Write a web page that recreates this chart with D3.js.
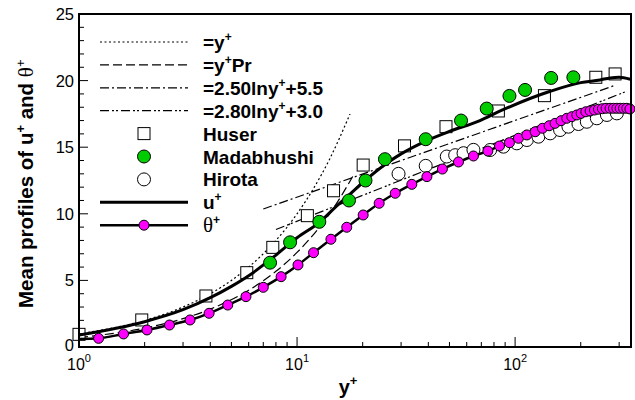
<!DOCTYPE html>
<html>
<head>
<meta charset="utf-8">
<script src="https://cdn.jsdelivr.net/npm/d3@7"></script>
<style>
body { margin: 0; background: #fff; }
svg { display: block; font-family: "Liberation Sans", Arial, sans-serif; }
</style>
</head>
<body>
<svg id="chart" width="635" height="400"></svg>
<script>
// Mean velocity / temperature profiles, wall units, log x.

// ── data ───────────────────────────────────────────
const yTicks = [0, 5, 10, 15, 20, 25];
const xMajor = [1, 10, 100];
const xMinor = [2, 3, 4, 5, 6, 7, 8, 9, 20, 30, 40, 50, 60, 70, 80, 90, 200, 300];

// u+ = y+ (dotted)
const linearYp = [1, 1.5, 2, 3, 4, 5, 6, 8, 10, 12, 14, 17.5];
const linearU  = [1, 1.5, 2, 3, 4, 5, 6, 8, 10, 12, 14, 17.5];
// y+Pr (dashed)
const prYp = [1, 2, 3, 4, 6, 8, 10, 12, 15, 18];
const prT  = [0.71, 1.42, 2.13, 2.84, 4.26, 5.68, 7.1, 8.52, 10.65, 12.8];
// log laws, straight in log-x: end points only
const log250Yp = [7, 290];
const log250U  = [10.36, 19.67];
const log280Yp = [8, 325];
const log280T  = [8.82, 19.2];

const huserYp = [1.0, 1.94, 3.82, 5.88, 7.74, 11.15, 14.7, 20.1, 31.1, 48.2, 83.8, 136.3, 234.5, 287.5];
const huserU  = [0.95, 2.03, 3.83, 5.58, 7.48, 9.86, 11.73, 13.66, 15.1, 16.54, 17.72, 18.87, 20.25, 20.5];

const madYp = [7.52, 9.29, 12.65, 17.3, 20.6, 25.3, 38.9, 56.5, 74.1, 94.2, 111.1, 146.3, 185];
const madU  = [6.33, 7.86, 9.4, 11.0, 12.5, 14.1, 15.6, 17.0, 17.9, 18.85, 19.3, 20.2, 20.25];

const hirotaYp = [29.2, 38.9, 48.6, 53.1, 58.0, 64.4, 76.8, 88.4, 101.8, 113.2, 127.9, 144.8, 160.8,
                  175.6, 195.2, 213.2, 237, 263.6, 292.9];
const hirotaU  = [13.0, 13.6, 14.3, 14.4, 14.55, 14.8, 14.79, 15.04, 15.29, 15.54, 15.79, 16.04, 16.29,
                  16.54, 16.74, 16.91, 17.17, 17.42, 17.54];

// present u+ (solid)
const uYp = [1, 2, 3, 4, 5, 6, 8, 10, 12.75, 15, 17.3, 20.5, 25.8, 30, 39.4, 50.3, 69, 85, 145, 200, 245, 273, 300, 337];
const uU  = [0.9, 1.9, 2.8, 3.7, 4.55, 5.35, 6.9, 8.2, 9.4, 10.5, 11.4, 12.5, 13.8, 14.5, 15.5, 16.2, 17.0, 17.7, 19.2, 19.85, 20.05, 20.2, 20.25, 20.1];

// present theta+ (solid + magenta dots); first point is line only
const thetaYp = [1, 1.23, 1.60, 2.05, 2.60, 3.23, 3.95, 4.81, 5.83, 7.00, 8.45, 10.1, 11.9, 14.3, 16.9,
                 20.1, 23.8, 28.2, 33.6, 39.4, 46.4, 55.0, 64.4, 75.0, 84.8, 94.2, 103.6, 113.2, 123.6,
                 133.5, 143.2, 152.5, 162.5, 172.6, 182.0, 191.9, 200.8, 211.0, 220.8, 231.2, 241.1,
                 251.4, 261.4, 272.7, 282.5, 292.9, 303.3, 314.1, 325.3, 336.3];
const thetaT  = [0.6, 0.65, 0.98, 1.28, 1.65, 2.03, 2.53, 3.15, 3.78, 4.48, 5.28, 6.16, 7.08, 8.09, 8.99,
                 9.91, 10.79, 11.54, 12.21, 12.79, 13.36, 13.89, 14.34, 14.71, 15.09, 15.34, 15.67, 15.92, 16.16,
                 16.42, 16.61, 16.79, 16.99, 17.17, 17.29, 17.42, 17.54, 17.66, 17.72, 17.79, 17.85,
                 17.89, 17.92, 17.92, 17.92, 17.92, 17.92, 17.92, 17.92, 17.87];

const zip = (a, b) => a.map((v, i) => [v, b[i]]);

// ── layout ─────────────────────────────────────────
const svg = d3.select("#chart");
const pLeft = 79, pRight = 631, pTop = 14, pBottom = 347;

const x = d3.scaleLog().domain([1, 340]).range([pLeft, pRight]);
const y = d3.scaleLinear().domain([0, 25]).range([pBottom, pTop]);

const line = d3.line().x(d => x(d[0])).y(d => y(d[1]));
const smooth = d3.line().x(d => x(d[0])).y(d => y(d[1])).curve(d3.curveMonotoneX);

const plot = svg.append("g");
plot.append("clipPath").attr("id", "clip")
    .append("rect").attr("x", pLeft).attr("y", pTop)
    .attr("width", pRight - pLeft).attr("height", pBottom - pTop);

// reference lines
const refs = [
    { data: zip(linearYp, linearU), gen: smooth, dash: "2,2.5" },
    { data: zip(prYp, prT),         gen: smooth, dash: "9,4" },
    { data: zip(log250Yp, log250U), gen: line,   dash: "9,3,2,3" },
    { data: zip(log280Yp, log280T), gen: line,   dash: "9,3,2,2,2,3" }
];
refs.forEach(r => {
    plot.append("path")
        .attr("d", r.gen(r.data))
        .attr("fill", "none")
        .attr("stroke", "#000")
        .attr("stroke-width", 1.2)
        .attr("stroke-dasharray", r.dash);
});

// experimental sets
plot.append("g").selectAll("rect")
    .data(zip(huserYp, huserU))
    .join("rect")
    .attr("x", d => x(d[0]) - 6).attr("y", d => y(d[1]) - 6)
    .attr("width", 12).attr("height", 12)
    .attr("fill", "#fff").attr("stroke", "#000").attr("stroke-width", 1);

plot.append("g").selectAll("circle")
    .data(zip(hirotaYp, hirotaU))
    .join("circle")
    .attr("cx", d => x(d[0])).attr("cy", d => y(d[1])).attr("r", 6.5)
    .attr("fill", "#fff").attr("stroke", "#000").attr("stroke-width", 1);

// present results
plot.append("path")
    .attr("d", smooth(zip(uYp, uU)))
    .attr("fill", "none").attr("stroke", "#000").attr("stroke-width", 3)
    .attr("clip-path", "url(#clip)");

plot.append("g").selectAll("circle")
    .data(zip(madYp, madU))
    .join("circle")
    .attr("cx", d => x(d[0])).attr("cy", d => y(d[1])).attr("r", 6.5)
    .attr("fill", "#00cc00").attr("stroke", "#000").attr("stroke-width", 1);

plot.append("path")
    .attr("d", smooth(zip(thetaYp, thetaT)))
    .attr("fill", "none").attr("stroke", "#000").attr("stroke-width", 2.5)
    .attr("clip-path", "url(#clip)");

plot.append("g").selectAll("circle")
    .data(zip(thetaYp, thetaT).slice(1))
    .join("circle")
    .attr("cx", d => x(d[0])).attr("cy", d => y(d[1])).attr("r", 5)
    .attr("fill", "#ff00ff").attr("stroke", "#000").attr("stroke-width", 1);

// ── axes (ticks inside, Tecplot style) ─────────────
const ax = svg.append("g");
ax.append("rect")
    .attr("x", pLeft).attr("y", pTop).attr("width", pRight - pLeft).attr("height", pBottom - pTop)
    .attr("fill", "none").attr("stroke", "#000").attr("stroke-width", 2);

const yMinor = d3.range(0, 26).filter(v => v % 5 !== 0);
ax.selectAll(".ymaj").data(yTicks).join("line")
    .attr("x1", pLeft).attr("x2", pLeft + 9)
    .attr("y1", d => y(d)).attr("y2", d => y(d))
    .attr("stroke", "#000").attr("stroke-width", 1);
ax.selectAll(".ymin").data(yMinor).join("line")
    .attr("x1", pLeft).attr("x2", pLeft + 5)
    .attr("y1", d => y(d)).attr("y2", d => y(d))
    .attr("stroke", "#000").attr("stroke-width", 1);
ax.selectAll(".ylab").data(yTicks).join("text")
    .attr("x", pLeft - 5).attr("y", d => y(d) + (d === 0 ? 4 : 6))
    .attr("text-anchor", "end").attr("font-size", 16.5)
    .text(d => d);

ax.selectAll(".xmaj").data(xMajor).join("line")
    .attr("x1", d => x(d)).attr("x2", d => x(d))
    .attr("y1", pBottom).attr("y2", pBottom - 10)
    .attr("stroke", "#000").attr("stroke-width", 1);
ax.selectAll(".xmin").data(xMinor).join("line")
    .attr("x1", d => x(d)).attr("x2", d => x(d))
    .attr("y1", pBottom).attr("y2", pBottom - 5)
    .attr("stroke", "#000").attr("stroke-width", 1);
const xl = ax.selectAll(".xlab").data(xMajor).join("text")
    .attr("x", d => x(d)).attr("y", pBottom + 23)
    .attr("text-anchor", "middle").attr("font-size", 16);
xl.append("tspan").text("10");
xl.append("tspan").attr("dy", -8).attr("font-size", 11).text(d => Math.round(Math.log10(d)));

// axis titles
const xt = svg.append("text")
    .attr("x", 348).attr("y", 394)
    .attr("text-anchor", "middle").attr("font-size", 20).attr("font-weight", "bold");
xt.append("tspan").text("y");
xt.append("tspan").attr("dy", -9).attr("font-size", 13).text("+");

const yt = svg.append("text")
    .attr("transform", "translate(33,308) rotate(-90)")
    .attr("text-anchor", "start").attr("font-size", 20.5).attr("font-weight", "bold");
yt.append("tspan").text("Mean profiles of u");
yt.append("tspan").attr("dy", -8).attr("font-size", 13).text("+");
yt.append("tspan").attr("dy", 8).text(" and ");
yt.append("tspan").attr("font-weight", "normal").attr("font-family", "Liberation Serif, serif")
    .attr("font-size", 21).text("\u03b8");
yt.append("tspan").attr("dy", -8).attr("font-size", 13).attr("font-weight", "normal").text("+");

// ── legend ─────────────────────────────────────────
const legRows = [
    { parts: [["=y"], ["+", "sup"]], kind: "line", dash: "2,2.5", w: 1.2 },
    { parts: [["=y"], ["+", "sup"], ["Pr", "base"]], kind: "line", dash: "9,4", w: 1.2 },
    { parts: [["=2.50lny"], ["+", "sup"], ["+5.5", "base"]], kind: "line", dash: "9,3,2,3", w: 1.2 },
    { parts: [["=2.80lny"], ["+", "sup"], ["+3.0", "base"]], kind: "line", dash: "9,3,2,2,2,3", w: 1.2 },
    { parts: [["Huser"]], kind: "square" },
    { parts: [["Madabhushi"]], kind: "circle", fill: "#00cc00" },
    { parts: [["Hirota"]], kind: "circle", fill: "#fff" },
    { parts: [["u"], ["+", "sup"]], kind: "line", dash: null, w: 3 },
    { parts: [["\u03b8", "theta"], ["+", "sup"]], kind: "lineDot" }
];
const legX0 = 100, legX1 = 188, legTx = 203, legY0 = 42, legDy = 22.9;
const leg = svg.append("g");
legRows.forEach((r, i) => {
    const cy = legY0 + i * legDy;
    const mx = (legX0 + legX1) / 2;
    if (r.kind === "line" || r.kind === "lineDot") {
        leg.append("line")
            .attr("x1", legX0).attr("x2", legX1).attr("y1", cy).attr("y2", cy)
            .attr("stroke", "#000").attr("stroke-width", r.kind === "lineDot" ? 2.5 : r.w)
            .attr("stroke-dasharray", r.dash || null);
    }
    if (r.kind === "square") {
        leg.append("rect").attr("x", mx - 6).attr("y", cy - 6).attr("width", 12).attr("height", 12)
            .attr("fill", "#fff").attr("stroke", "#000");
    }
    if (r.kind === "circle") {
        leg.append("circle").attr("cx", mx).attr("cy", cy).attr("r", 6.5)
            .attr("fill", r.fill).attr("stroke", "#000");
    }
    if (r.kind === "lineDot") {
        leg.append("circle").attr("cx", mx).attr("cy", cy).attr("r", 5)
            .attr("fill", "#ff00ff").attr("stroke", "#000");
    }
    const t = leg.append("text").attr("x", legTx).attr("y", cy + 7)
        .attr("font-size", 19).attr("font-weight", "bold");
    r.parts.forEach(([s, role]) => {
        const ts = t.append("tspan").text(s);
        if (role === "sup") ts.attr("dy", -8).attr("font-size", 12);
        if (role === "base") ts.attr("dy", 8);
        if (role === "theta") ts.attr("font-weight", "normal")
            .attr("font-family", "Liberation Serif, serif").attr("font-size", 21);
    });
});
</script>
</body>
</html>
